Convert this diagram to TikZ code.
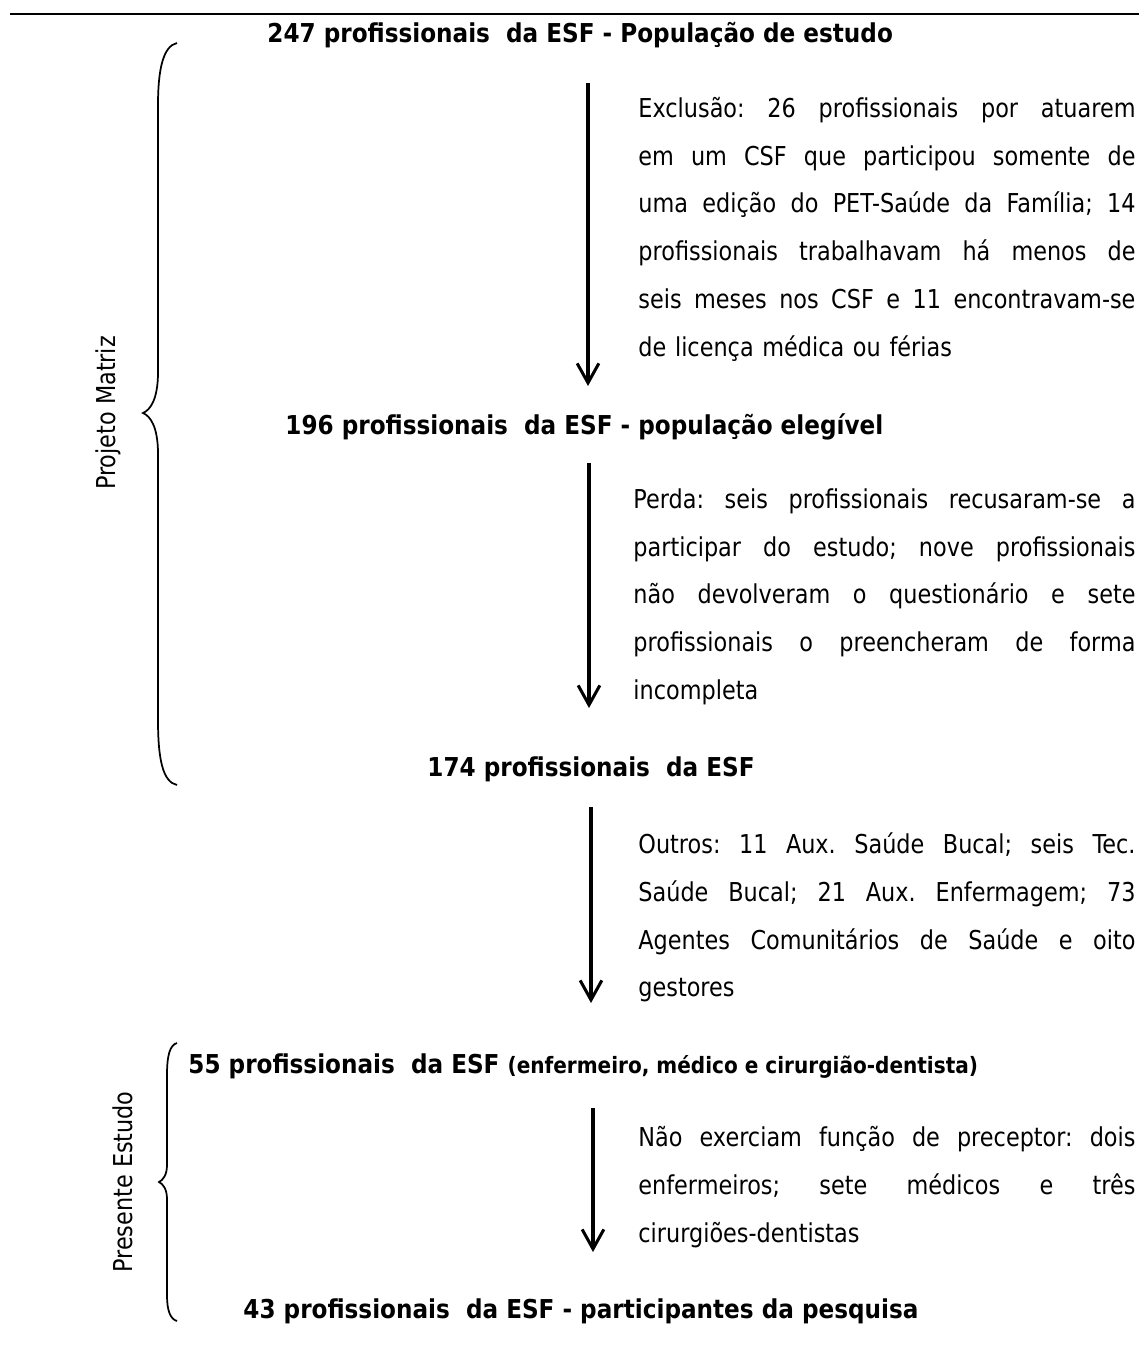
\documentclass[tikz,border=0pt]{standalone}
\usepackage{fontspec}
\setmainfont{DejaVu Sans}[FakeStretch=0.86, BoldFeatures={FakeStretch=0.89}]
\usetikzlibrary{arrows.meta}
% one justified line of a note
\newcommand{\jl}[2][229.4pt]{\makebox[#1][s]{\frenchspacing\spaceskip=\fontdimen2\font plus 1fil\relax #2}}
\tikzset{
  row/.style={anchor=base west, inner sep=0pt, font=\fontsize{12pt}{14pt}\selectfont\bfseries},
  note/.style={anchor=base west, inner sep=0pt, align=left, font=\fontsize{12pt}{22.15pt}\selectfont},
  flow/.style={line width=1.4pt, -{Straight Barb[length=9pt,width=10pt]}},
  brace/.style={line width=0.8pt},
  side/.style={rotate=90, inner sep=0pt, font=\fontsize{12pt}{14pt}\selectfont},
}
\begin{document}
\begin{tikzpicture}[x=0.4615pt, y=-0.4615pt]
                \useasboundingbox (0,0) rectangle (1139,1362);
                % Top rule
                \coordinate (rl) at (10,14);
                \coordinate (rr) at (1139,14);
                \draw[line width=0.9pt] (rl) -- (rr);
                % Counts
                \node[row] (r247) at (267,42) {247 profissionais\ \ da ESF - População de estudo};
                \node[row] (r196) at (285,434) {196 profissionais\ \ da ESF - população elegível};
                \node[row] (r174) at (427,776) {174 profissionais\ \ da ESF};
                \node[row] (r55) at (188,1073) {55 profissionais\ \ da ESF {\fontsize{10.4pt}{12pt}\selectfont(enfermeiro, médico e cirurgião-dentista)}};
                \node[row] (r43) at (243,1318) {43 profissionais\ \ da ESF - participantes da pesquisa};
                % Notes beside the arrows
                \node[note, text width=229.4pt] (n1) at (638,117) {\jl{Exclusão: 26 profissionais por atuarem}\\
                    \jl{em um CSF que participou somente de}\\
                    \jl{uma edição do PET-Saúde da Família; 14}\\
                    \jl{profissionais trabalhavam há menos de}\\
                    \jl{seis meses nos CSF e 11 encontravam-se}\\
                    de licença médica ou férias};
                \node[note, text width=231.7pt] (n2) at (633,508) {\jl[231.7pt]{Perda: seis profissionais recusaram-se a}\\
                    \jl[231.7pt]{participar do estudo; nove profissionais}\\
                    \jl[231.7pt]{não devolveram o questionário e sete}\\
                    \jl[231.7pt]{profissionais o preencheram de forma}\\
                    incompleta};
                \node[note, text width=229.4pt] (n3) at (638,853) {\jl{Outros: 11 Aux. Saúde Bucal; seis Tec.}\\
                    \jl{Saúde Bucal; 21 Aux. Enfermagem; 73}\\
                    \jl{Agentes Comunitários de Saúde e oito}\\
                    gestores};
                \node[note, text width=229.4pt] (n4) at (638,1146) {\jl{Não exerciam função de preceptor: dois}\\
                    \jl{enfermeiros; sete médicos e três}\\
                    cirurgiões-dentistas};
                % Arrows
                \foreach \i/\x/\a/\b in {1/588/83/386, 2/589/463/708, 3/591/807/1003, 4/593/1108/1252} {
                    \coordinate (s\i) at (\x,\a);
                    \coordinate (e\i) at (\x,\b);
                    \draw[flow] (s\i) -- (e\i);
                }
                % Braces
                \draw[brace] (177,43) .. controls (163,46) and (158,70) .. (158,105) -- (158,372)
                    .. controls (158,400) and (150,410) .. (143,413)
                    .. controls (150,416) and (158,426) .. (158,454) -- (158,720)
                    .. controls (158,760) and (163,782) .. (177,785);
                \draw[brace] (177,1043) .. controls (170,1045) and (167,1055) .. (167,1075) -- (167,1165)
                    .. controls (167,1175) and (163,1180) .. (159,1182)
                    .. controls (163,1184) and (167,1189) .. (167,1199) -- (167,1295)
                    .. controls (167,1310) and (170,1319) .. (177,1321);
                \node[side] (matriz) at (108,413) {Projeto Matriz};
                \node[side] (estudo) at (123,1182) {Presente Estudo};
\end{tikzpicture}
\end{document}
